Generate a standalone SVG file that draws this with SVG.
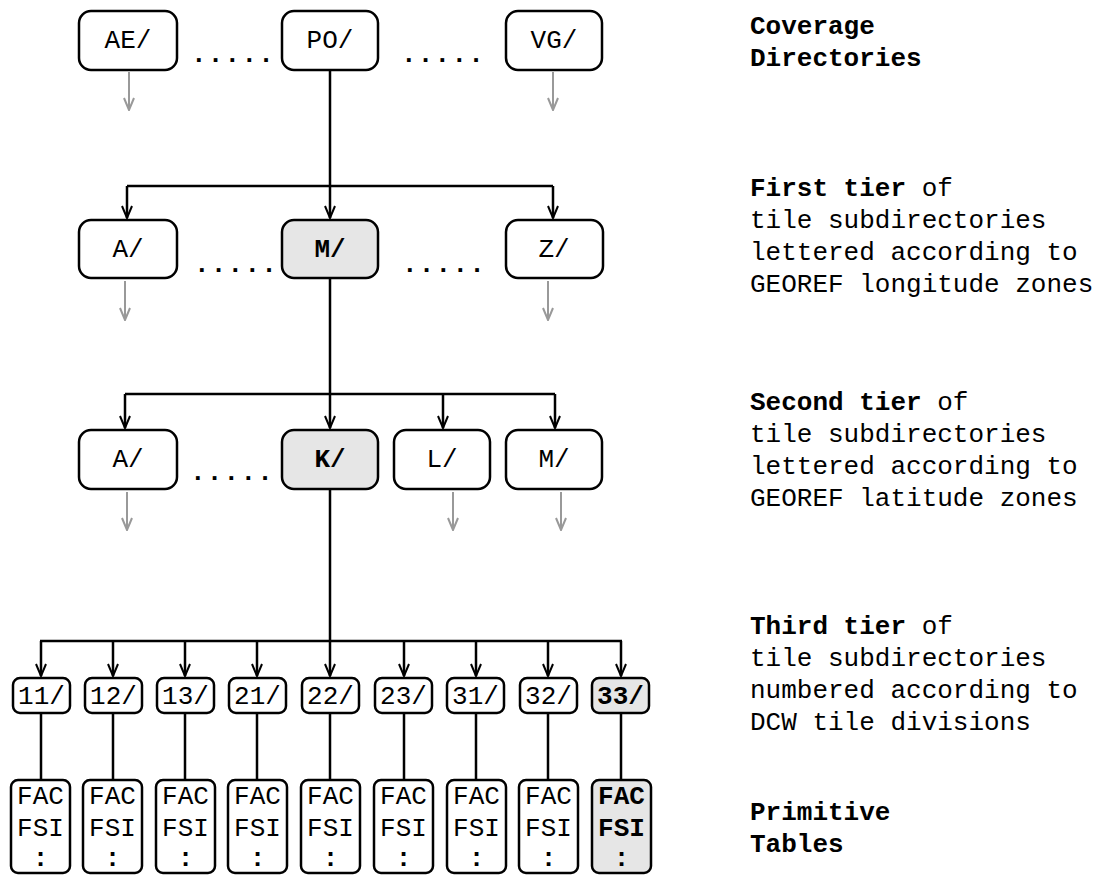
<svg xmlns="http://www.w3.org/2000/svg" width="1106" height="875" viewBox="0 0 1106 875">
<defs>
<marker id="ah" markerWidth="14" markerHeight="12" refX="13" refY="6" orient="auto" markerUnits="userSpaceOnUse" viewBox="0 0 14 12">
<path d="M1,1 L13,6 L1,11" fill="none" stroke="#000" stroke-width="2"/>
</marker>
<marker id="ahg" markerWidth="14" markerHeight="12" refX="13" refY="6" orient="auto" markerUnits="userSpaceOnUse" viewBox="0 0 14 12">
<path d="M1,1 L13,6 L1,11" fill="none" stroke="#999" stroke-width="2"/>
</marker>
</defs>
<style>
.box{fill:#fff;stroke:#000;stroke-width:2.5}
.hl{fill:#e6e6e6}
.t{font-family:"Liberation Mono","Courier New",monospace;font-size:26px;fill:#000;text-anchor:middle}
.b{font-weight:bold}
.dots{font-family:"Liberation Mono","Courier New",monospace;font-size:26px;font-weight:bold;letter-spacing:1.2px}
.lab{font-family:"Liberation Mono","Courier New",monospace;font-size:26px;fill:#000}
.ln{fill:none;stroke:#000;stroke-width:2.5}
.ar{fill:none;stroke:#000;stroke-width:2.5;marker-end:url(#ah)}
.ga{fill:none;stroke:#999;stroke-width:2;marker-end:url(#ahg)}
</style>
<rect width="1106" height="875" fill="#fff"/>

<g id="connectors">
<path class="ln" d="M330,70 V186 M127,186 H553"/>
<path class="ar" d="M127,186 V218"/>
<path class="ar" d="M330,186 V218"/>
<path class="ar" d="M553,186 V218"/>
<path class="ln" d="M330,278 V394 M125,394 H555"/>
<path class="ar" d="M125,394 V428"/>
<path class="ar" d="M330,394 V428"/>
<path class="ar" d="M443,394 V428"/>
<path class="ar" d="M555,394 V428"/>
<path class="ln" d="M330,489 V641 M40,641 H622"/>
<path class="ar" d="M41,641 V676"/>
<path class="ar" d="M113,641 V676"/>
<path class="ar" d="M185,641 V676"/>
<path class="ar" d="M257,641 V676"/>
<path class="ar" d="M330,641 V676"/>
<path class="ar" d="M404,641 V676"/>
<path class="ar" d="M476,641 V676"/>
<path class="ar" d="M548,641 V676"/>
<path class="ar" d="M621,641 V676"/>
<path class="ln" d="M41,713 V780 M113,713 V780 M185,713 V780 M257,713 V780 M330,713 V780 M404,713 V780 M476,713 V780 M548,713 V780 M621,713 V780"/>
<path class="ga" d="M129,72 V110"/>
<path class="ga" d="M553,72 V110"/>
<path class="ga" d="M125,281 V320"/>
<path class="ga" d="M548,281 V320"/>
<path class="ga" d="M127,492 V530"/>
<path class="ga" d="M453,492 V530"/>
<path class="ga" d="M561,492 V530"/>
</g>

<g id="n-AE"><rect class="box" x="79" y="11" width="98" height="59" rx="12"/><text class="t" x="128" y="48">AE/</text></g>
<g id="n-PO"><rect class="box" x="282" y="11" width="96" height="59" rx="12"/><text class="t" x="330" y="48">PO/</text></g>
<g id="n-VG"><rect class="box" x="506" y="11" width="96" height="59" rx="12"/><text class="t" x="554" y="48">VG/</text></g>
<text class="dots" x="191" y="62">.....</text>
<text class="dots" x="401" y="62">.....</text>

<g id="n-A1"><rect class="box" x="79" y="220" width="98" height="58" rx="12"/><text class="t" x="128" y="257">A/</text></g>
<g id="n-M1"><rect class="box hl" x="282" y="220" width="96" height="58" rx="12"/><text class="t b" x="330" y="257">M/</text></g>
<g id="n-Z1"><rect class="box" x="506" y="220" width="97" height="58" rx="12"/><text class="t" x="554" y="257">Z/</text></g>
<text class="dots" x="194" y="272">.....</text>
<text class="dots" x="402" y="272">.....</text>

<g id="n-A2"><rect class="box" x="79" y="430" width="98" height="59" rx="12"/><text class="t" x="128" y="467">A/</text></g>
<g id="n-K2"><rect class="box hl" x="282" y="430" width="96" height="59" rx="12"/><text class="t b" x="330" y="467">K/</text></g>
<g id="n-L2"><rect class="box" x="394" y="430" width="96" height="59" rx="12"/><text class="t" x="442" y="467">L/</text></g>
<g id="n-M2"><rect class="box" x="506" y="430" width="96" height="59" rx="12"/><text class="t" x="554" y="467">M/</text></g>
<text class="dots" x="190" y="480">.....</text>

<g id="n-11"><rect class="box" x="13" y="678" width="57" height="35" rx="7"/><text class="t" x="41.5" y="704">11/</text></g>
<g id="n-12"><rect class="box" x="85" y="678" width="57" height="35" rx="7"/><text class="t" x="113.5" y="704">12/</text></g>
<g id="n-13"><rect class="box" x="157" y="678" width="57" height="35" rx="7"/><text class="t" x="185.5" y="704">13/</text></g>
<g id="n-21"><rect class="box" x="229" y="678" width="57" height="35" rx="7"/><text class="t" x="257.5" y="704">21/</text></g>
<g id="n-22"><rect class="box" x="302" y="678" width="57" height="35" rx="7"/><text class="t" x="330.5" y="704">22/</text></g>
<g id="n-23"><rect class="box" x="375" y="678" width="57" height="35" rx="7"/><text class="t" x="403.5" y="704">23/</text></g>
<g id="n-31"><rect class="box" x="447" y="678" width="57" height="35" rx="7"/><text class="t" x="475.5" y="704">31/</text></g>
<g id="n-32"><rect class="box" x="520" y="678" width="57" height="35" rx="7"/><text class="t" x="548.5" y="704">32/</text></g>
<g id="n-33"><rect class="box hl" x="592" y="678" width="57" height="35" rx="7"/><text class="t b" x="620.5" y="704">33/</text></g>

<g id="p-11"><rect class="box" x="11" y="780" width="59" height="93" rx="7"/><text class="t" x="40.5" y="804">FAC</text><text class="t" x="40.5" y="836">FSI</text><text class="t b" x="40.5" y="866">:</text></g>
<g id="p-12"><rect class="box" x="83" y="780" width="59" height="93" rx="7"/><text class="t" x="112.5" y="804">FAC</text><text class="t" x="112.5" y="836">FSI</text><text class="t b" x="112.5" y="866">:</text></g>
<g id="p-13"><rect class="box" x="156" y="780" width="59" height="93" rx="7"/><text class="t" x="185.5" y="804">FAC</text><text class="t" x="185.5" y="836">FSI</text><text class="t b" x="185.5" y="866">:</text></g>
<g id="p-21"><rect class="box" x="228" y="780" width="59" height="93" rx="7"/><text class="t" x="257.5" y="804">FAC</text><text class="t" x="257.5" y="836">FSI</text><text class="t b" x="257.5" y="866">:</text></g>
<g id="p-22"><rect class="box" x="301" y="780" width="59" height="93" rx="7"/><text class="t" x="330.5" y="804">FAC</text><text class="t" x="330.5" y="836">FSI</text><text class="t b" x="330.5" y="866">:</text></g>
<g id="p-23"><rect class="box" x="374" y="780" width="59" height="93" rx="7"/><text class="t" x="403.5" y="804">FAC</text><text class="t" x="403.5" y="836">FSI</text><text class="t b" x="403.5" y="866">:</text></g>
<g id="p-31"><rect class="box" x="447" y="780" width="59" height="93" rx="7"/><text class="t" x="476.5" y="804">FAC</text><text class="t" x="476.5" y="836">FSI</text><text class="t b" x="476.5" y="866">:</text></g>
<g id="p-32"><rect class="box" x="519" y="780" width="59" height="93" rx="7"/><text class="t" x="548.5" y="804">FAC</text><text class="t" x="548.5" y="836">FSI</text><text class="t b" x="548.5" y="866">:</text></g>
<g id="p-33"><rect class="box hl" x="592" y="780" width="59" height="93" rx="7"/><text class="t b" x="621.5" y="804">FAC</text><text class="t b" x="621.5" y="836">FSI</text><text class="t b" x="621.5" y="866">:</text></g>

<g id="legend">
<text class="lab b" x="750" y="34">Coverage</text>
<text class="lab b" x="750" y="66">Directories</text>
<text class="lab" x="750" y="196"><tspan font-weight="bold">First tier</tspan> of</text>
<text class="lab" x="750" y="228">tile subdirectories</text>
<text class="lab" x="750" y="260">lettered according to</text>
<text class="lab" x="750" y="292">GEOREF longitude zones</text>
<text class="lab" x="750" y="410"><tspan font-weight="bold">Second tier</tspan> of</text>
<text class="lab" x="750" y="442">tile subdirectories</text>
<text class="lab" x="750" y="474">lettered according to</text>
<text class="lab" x="750" y="506">GEOREF latitude zones</text>
<text class="lab" x="750" y="634"><tspan font-weight="bold">Third tier</tspan> of</text>
<text class="lab" x="750" y="666">tile subdirectories</text>
<text class="lab" x="750" y="698">numbered according to</text>
<text class="lab" x="750" y="730">DCW tile divisions</text>
<text class="lab b" x="750" y="820">Primitive</text>
<text class="lab b" x="750" y="852">Tables</text>
</g>
</svg>
